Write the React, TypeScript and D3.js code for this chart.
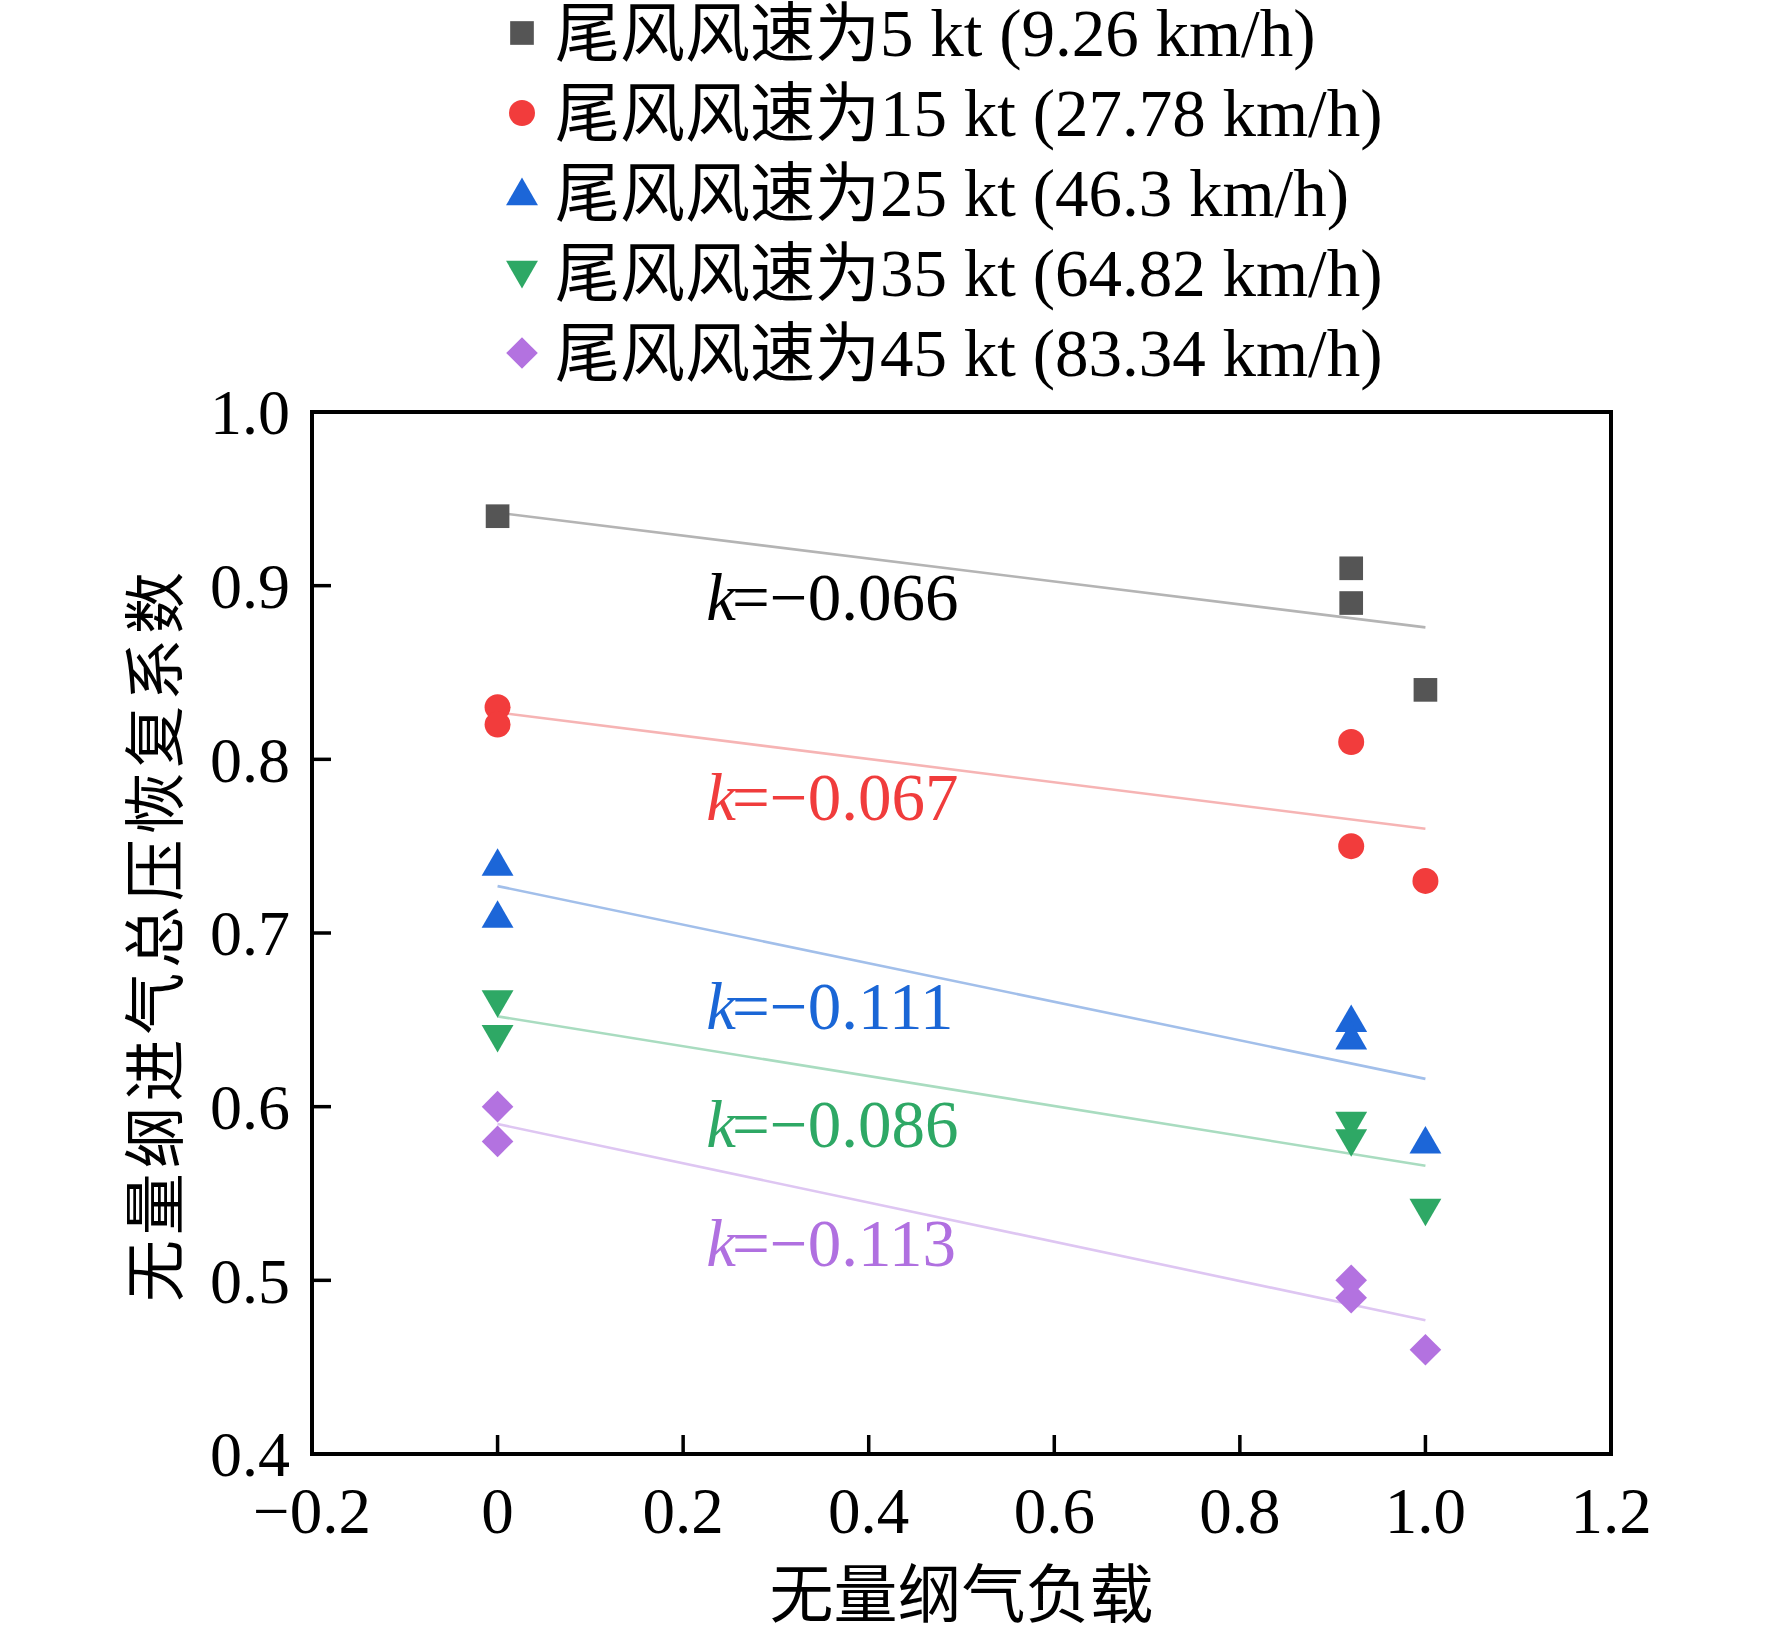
import { useEffect, useRef } from 'react';
import * as d3 from 'd3';

// 数据
const seriesNames = [
    '尾风风速为5 kt (9.26 km/h)',
    '尾风风速为15 kt (27.78 km/h)',
    '尾风风速为25 kt (46.3 km/h)',
    '尾风风速为35 kt (64.82 km/h)',
    '尾风风速为45 kt (83.34 km/h)',
];
const loadX = [0, 0, 0.92, 0.92, 1.0];
const wind5 = [0.94, null, 0.91, 0.89, 0.84];
const wind15 = [0.83, 0.82, 0.81, 0.75, 0.73];
const wind25 = [0.74, 0.71, 0.65, 0.64, 0.58];
const wind35 = [0.66, 0.64, 0.59, 0.58, 0.54];
const wind45 = [0.60, 0.58, 0.50, 0.49, 0.46];
const fitIntercept = [0.942, 0.827, 0.727, 0.652, 0.590];
const fitSlope = [-0.066, -0.067, -0.111, -0.086, -0.113];
const fitRange = [0, 1.0];
const slopeLabels = ['−0.066', '−0.067', '−0.111', '−0.086', '−0.113'];
const xTicks = [-0.2, 0, 0.2, 0.4, 0.6, 0.8, 1.0, 1.2];
const xTickLabels = ['−0.2', '0', '0.2', '0.4', '0.6', '0.8', '1.0', '1.2'];
const yTicks = [0.4, 0.5, 0.6, 0.7, 0.8, 0.9, 1.0];
const yTickLabels = ['0.4', '0.5', '0.6', '0.7', '0.8', '0.9', '1.0'];

const markerColors = ['#555555', '#f23c3c', '#1c66d8', '#2ea865', '#b372e0'];
const lineColors = ['#b4b4b4', '#f6b4b4', '#a2bfea', '#a9dcc0', '#dec6f2'];
const labelColors = ['#000000', '#f03c3c', '#1a66d6', '#2ea865', '#b070e0'];

const WIDTH = 1772;
const HEIGHT = 1635;
const SERIF = '"Liberation Serif", "Times New Roman", "Noto Sans CJK SC", serif';
const CJK = '"Noto Sans CJK SC", "Liberation Serif", serif';

export default function App() {
    const svgRef = useRef<SVGSVGElement>(null);

    useEffect(() => {
        if (!svgRef.current) return;
        const svg = d3.select(svgRef.current);
        svg.selectAll('*').remove();

        const margin = { top: 412, right: 161, bottom: 181, left: 312 };
        const w = WIDTH - margin.left - margin.right;
        const h = HEIGHT - margin.top - margin.bottom;

        const x = d3.scaleLinear().domain([-0.2, 1.2]).range([0, w]);
        const y = d3.scaleLinear().domain([0.4, 1.0]).range([h, 0]);

        const g = svg.append('g').attr('transform', `translate(${margin.left},${margin.top})`);

        // 符号
        const symbols = [
            { type: d3.symbolSquare, size: 560, rot: 0 },
            { type: d3.symbolCircle, size: 530, rot: 0 },
            { type: d3.symbolTriangle, size: 440, rot: 0 },
            { type: d3.symbolTriangle, size: 440, rot: 180 },
            { type: d3.symbolSquare, size: 500, rot: 45 },
        ];
        const series = [wind5, wind15, wind25, wind35, wind45];

        // 拟合直线
        series.forEach((_, i) => {
            const pts = fitRange.map(xv => [x(xv), y(fitIntercept[i] + fitSlope[i] * xv)] as [number, number]);
            g.append('path')
                .attr('d', d3.line()(pts))
                .attr('fill', 'none')
                .attr('stroke', lineColors[i])
                .attr('stroke-width', 2.6);
        });

        // 散点
        series.forEach((vals, i) => {
            const s = symbols[i];
            const sym = d3.symbol().type(s.type).size(s.size)();
            g.selectAll(`.pt${i}`)
                .data(vals.map((v, j) => ({ x: loadX[j], y: v })).filter(d => d.y !== null))
                .enter()
                .append('path')
                .attr('d', sym)
                .attr('transform', d => {
                    const yOff = s.type === d3.symbolTriangle ? (s.rot ? -3 : 3) : 0;
                    return `translate(${x(d.x)},${y(d.y as number) + yOff}) rotate(${s.rot})`;
                })
                .attr('fill', markerColors[i]);
        });

        // k 标注
        const kBase = [0.880, 0.765, 0.645, 0.577, 0.508];
        slopeLabels.forEach((lab, i) => {
            const t = g.append('text')
                .attr('x', x(0.225))
                .attr('y', y(kBase[i]))
                .attr('fill', labelColors[i])
                .style('font-family', SERIF)
                .style('font-size', '67px');
            t.append('tspan').style('font-style', 'italic').text('k');
            t.append('tspan').attr('dx', -4).text('=' + lab);
        });

        // 坐标轴刻度（向内）
        const xAxis = g.append('g').attr('transform', `translate(0,${h})`);
        xTicks.forEach((tv, i) => {
            xAxis.append('line')
                .attr('x1', x(tv)).attr('x2', x(tv))
                .attr('y1', 0).attr('y2', -19)
                .attr('stroke', '#000').attr('stroke-width', 3.5);
            xAxis.append('text')
                .attr('x', x(tv))
                .attr('y', 79)
                .attr('text-anchor', 'middle')
                .style('font-family', SERIF)
                .style('font-size', '65px')
                .text(xTickLabels[i]);
        });

        const yAxis = g.append('g');
        yTicks.forEach((tv, i) => {
            yAxis.append('line')
                .attr('x1', 0).attr('x2', 19)
                .attr('y1', y(tv)).attr('y2', y(tv))
                .attr('stroke', '#000').attr('stroke-width', 3.5);
            yAxis.append('text')
                .attr('x', -22)
                .attr('y', y(tv))
                .attr('dy', '0.35em')
                .attr('text-anchor', 'end')
                .style('font-family', SERIF)
                .style('font-size', '64px')
                .text(yTickLabels[i]);
        });

        // 边框
        g.append('rect')
            .attr('x', 0).attr('y', 0)
            .attr('width', w).attr('height', h)
            .attr('fill', 'none')
            .attr('stroke', '#000')
            .attr('stroke-width', 4);

        // 轴标题
        svg.append('text')
            .attr('x', margin.left + x(0.5))
            .attr('y', 1617)
            .attr('text-anchor', 'middle')
            .style('font-family', CJK)
            .style('font-size', '64px')
            .text('无量纲气负载');

        svg.append('text')
            .attr('transform', `translate(178,937) rotate(-90)`)
            .attr('text-anchor', 'middle')
            .attr('textLength', 730)
            .attr('lengthAdjust', 'spacing')
            .style('font-family', CJK)
            .style('font-size', '62px')
            .text('无量纲进气总压恢复系数');

        // 图例
        const legend = svg.append('g').attr('transform', 'translate(522, 33)');
        seriesNames.forEach((name, i) => {
            const s = symbols[i];
            const row = legend.append('g').attr('transform', `translate(0,${i * 80})`);
            const yOff = s.type === d3.symbolTriangle ? (s.rot ? -3 : 3) : 0;
            row.append('path')
                .attr('d', d3.symbol().type(s.type).size(s.size)())
                .attr('transform', `translate(0,${yOff}) rotate(${s.rot})`)
                .attr('fill', markerColors[i]);
            const m = name.match(/^(\D+)(.*)$/);
            const t = row.append('text')
                .attr('x', 33)
                .attr('y', 23)
                .style('font-size', '65px');
            t.append('tspan').style('font-family', CJK).text(m ? m[1] : name);
            t.append('tspan').style('font-family', SERIF).style('font-size', '67px').text(m ? m[2] : '');
        });
    }, []);

    return (
        <div style={{ position: 'absolute', left: 0, top: 0 }}>
            <svg ref={svgRef} width={WIDTH} height={HEIGHT} style={{ display: 'block', background: '#fff' }} />
        </div>
    );
}
